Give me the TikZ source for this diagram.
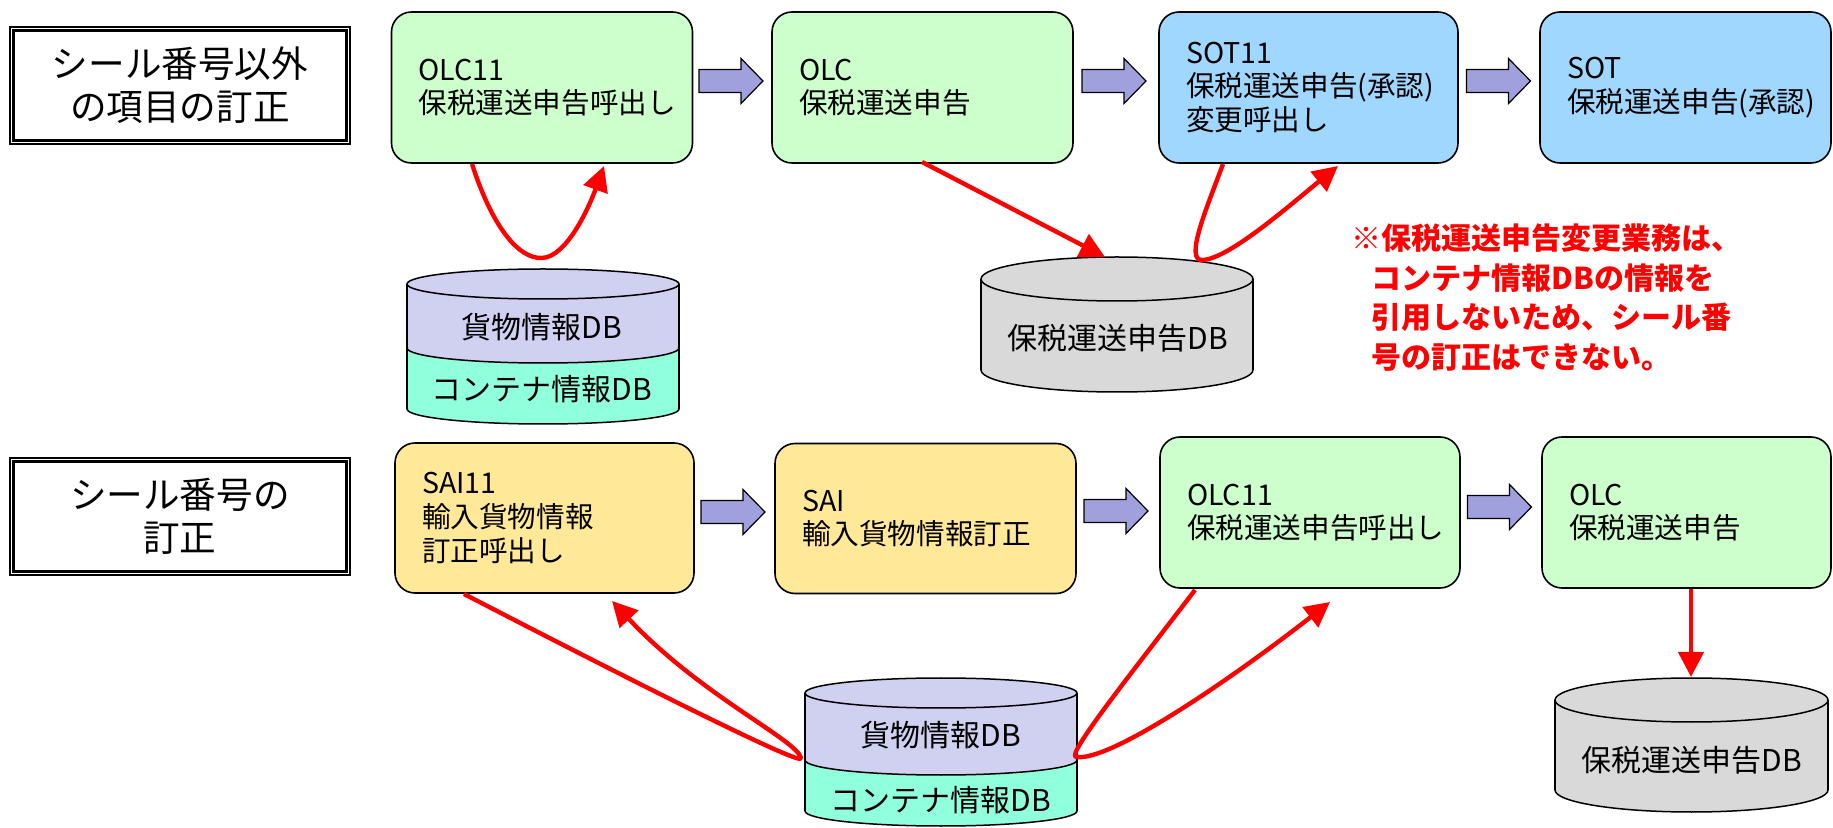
\documentclass[tikz,border=0pt]{standalone}
\usepackage{fontspec}
\newfontfamily\jp{Noto Sans CJK JP}
\usetikzlibrary{arrows.meta,calc}

\definecolor{boxgreen}{RGB}{204,255,204}
\definecolor{boxblue}{RGB}{160,215,255}
\definecolor{boxyellow}{RGB}{255,233,153}
\definecolor{arrowviolet}{RGB}{160,160,220}
\definecolor{dblav}{RGB}{208,208,240}
\definecolor{dbaqua}{RGB}{144,255,220}
\definecolor{dbgray}{RGB}{217,217,217}
\definecolor{flowred}{RGB}{255,0,0}

% filled band of a cylinder: x1, x2, top centre y, bottom centre y, ry, colour
\newcommand\dbband[6]{%
  \pgfmathsetmacro\dbcx{(#1+#2)/2}%
  \pgfmathsetmacro\dbrx{(#2-#1)/2}%
  \fill[#6] (#1,#3) rectangle (#2,#4);
  \fill[#6] (\dbcx,#4) ellipse [x radius=\dbrx, y radius=#5];
}
% lower half of an ellipse outline: x1, x2, centre y, ry
\newcommand\dbrim[4]{%
  \pgfmathsetmacro\dbcx{(#1+#2)/2}%
  \pgfmathsetmacro\dbrx{(#2-#1)/2}%
  \begin{scope}
    \clip (#1-5,#3) rectangle (#2+5,#3+#4+5);
    \draw[dbline] (\dbcx,#3) ellipse [x radius=\dbrx, y radius=#4];
  \end{scope}
}
% top lid: x1, x2, centre y, ry, colour
\newcommand\dblid[5]{%
  \pgfmathsetmacro\dbcx{(#1+#2)/2}%
  \pgfmathsetmacro\dbrx{(#2-#1)/2}%
  \filldraw[dbline, fill=#5] (\dbcx,#3) ellipse [x radius=\dbrx, y radius=#4];
}
% one-band cylinder: x1, x2, ytop, ybottom, ry, colour
\newcommand\dbone[6]{%
  \dbband{#1}{#2}{#3}{#4}{#5}{#6}
  \dbrim{#1}{#2}{#4}{#5}
  \draw[dbline] (#1,#3) -- (#1,#4) (#2,#3) -- (#2,#4);
  \dblid{#1}{#2}{#3}{#5}{#6}
}
% two-band cylinder: x1, x2, ytop, ysplit, ybottom, ry, upper colour, lower colour
\newcommand\dbtwo[8]{%
  \dbband{#1}{#2}{#4}{#5}{#6}{#8}
  \dbband{#1}{#2}{#3}{#4}{#6}{#7}
  \dbrim{#1}{#2}{#5}{#6}
  \dbrim{#1}{#2}{#4}{#6}
  \draw[dbline] (#1,#3) -- (#1,#5) (#2,#3) -- (#2,#5);
  \dblid{#1}{#2}{#3}{#6}{#7}
}

\tikzset{
  dbline/.style={draw=black, line width=0.75pt},
  stepbox/.style={draw=black, line width=0.8pt, rounded corners=10pt,
    minimum height=75.5pt, align=left, inner xsep=13.5pt, inner ysep=0pt,
    font=\jp\fontsize{14.3pt}{16.8pt}\selectfont},
  titlebox/.style={draw=black, line width=0.6pt, minimum width=170pt,
    minimum height=58.5pt, inner sep=0pt, align=center,
    font=\jp\fontsize{18.3pt}{21.5pt}\selectfont},
  dbtext/.style={inner sep=0pt, font=\jp\fontsize{15pt}{18pt}\selectfont},
  flow/.style={draw=flowred, line width=2.2pt, line join=round,
    -{Triangle[length=12.5pt,width=12.5pt]}},
  fwd/.pic={\filldraw[draw=black, line width=0.6pt, fill=arrowviolet]
    (-32,-11.5) -- (10,-11.5) -- (10,-22.5) -- (32,0) -- (10,22.5)
    -- (10,11.5) -- (-32,11.5) -- cycle;},
}

\begin{document}
\begin{tikzpicture}[x=0.5pt, y=-0.5pt]
\useasboundingbox (0,0) rectangle (1833,828);

% ---- headings ----
\node[titlebox] (lab1) at (180,85.5) {シール番号以外\\の項目の訂正};
\draw[line width=1.5pt] ([shift={(4.5,4.5)}]lab1.north west) rectangle ([shift={(-4.5,-4.5)}]lab1.south east);
\node[titlebox] (lab2) at (180,516.5) {シール番号の\\訂正};
\draw[line width=1.5pt] ([shift={(4.5,4.5)}]lab2.north west) rectangle ([shift={(-4.5,-4.5)}]lab2.south east);

% ---- upper flow ----
\node[stepbox, fill=boxgreen, text width=123.5pt] (b1) at (542,87.5) {OLC11\\保税運送申告呼出し};
\node[stepbox, fill=boxgreen, text width=123.5pt] (b2) at (922.5,87.5) {OLC\\保税運送申告};
\node[stepbox, fill=boxblue, text width=122.5pt] (b3) at (1308.5,87.5) {SOT11\\保税運送申告(承認)\\変更呼出し};
\node[stepbox, fill=boxblue, text width=118.5pt] (b4) at (1685.5,87.5) {SOT\\保税運送申告(承認)};

\pic at (731,81) {fwd};
\pic at (1114,81) {fwd};
\pic at (1498.5,81) {fwd};

% ---- lower flow ----
\node[stepbox, fill=boxyellow, text width=122.5pt, minimum height=75pt] (c1) at (544.5,518) {SAI11\\輸入貨物情報\\訂正呼出し};
\node[stepbox, fill=boxyellow, text width=123.5pt, minimum height=75pt] (c2) at (925.5,518.5) {SAI\\輸入貨物情報訂正};
\node[stepbox, fill=boxgreen, text width=123pt] (c3) at (1310,512.5) {OLC11\\保税運送申告呼出し};
\node[stepbox, fill=boxgreen, text width=117.5pt] (c4) at (1686.5,512.5) {OLC\\保税運送申告};

\pic at (733,512) {fwd};
\pic at (1116,511) {fwd};
\pic at (1499.5,507) {fwd};

% ---- databases ----
\dbtwo{407}{679}{284}{348}{409}{15}{dblav}{dbaqua}
\node[dbtext] (db1a) at (542,327) {貨物情報DB};
\node[dbtext] (db1b) at (542,389) {コンテナ情報DB};

\dbone{981}{1253}{279}{370}{22}{dbgray}
\node[dbtext] (db2) at (1118,338) {保税運送申告DB};

\dbtwo{805}{1077}{693}{760}{811}{15}{dblav}{dbaqua}
\node[dbtext] (db3a) at (941,735) {貨物情報DB};
\node[dbtext] (db3b) at (941,800) {コンテナ情報DB};

\dbone{1555}{1828}{700}{790}{22}{dbgray}
\node[dbtext] (db4) at (1692,760) {保税運送申告DB};

% ---- data references ----
\coordinate (r1s) at (472,164);
\coordinate (r1m) at (542,258);
\coordinate (r1e) at (604,166);
\draw[flow] (r1s) .. controls (492,226) and (518,259) .. (r1m)
  .. controls (566,257) and (588,210) .. (r1e);

\coordinate (r2s) at (922,162);
\coordinate (r2e) at (1105,257);
\draw[flow] (r2s) -- (r2e);

\coordinate (r3s) at (1223,164);
\coordinate (r3m) at (1203,260);
\coordinate (r3e) at (1338,166);
\draw[flow] (r3s) .. controls (1208,205) and (1183,262) .. (r3m)
  .. controls (1230,258) and (1290,205) .. (r3e);

\coordinate (r4s) at (464,594);
\coordinate (r4m) at (801,758);
\coordinate (r4e) at (612,601);
\draw[flow] (r4s) .. controls (640,685) and (805,768) .. (r4m)
  .. controls (797,740) and (700,695) .. (r4e);

\coordinate (r5s) at (1195,590);
\coordinate (r5m) at (1076,757);
\coordinate (r5e) at (1330,602);
\draw[flow] (r5s) .. controls (1130,675) and (1066,755) .. (r5m)
  .. controls (1110,762) and (1230,680) .. (r5e);

\coordinate (r6s) at (1691,589);
\coordinate (r6e) at (1691,677);
\draw[flow] (r6s) -- (r6e);

% ---- remark ----
\node[anchor=west, inner sep=0pt, align=left, text=flowred,
  font=\jp\bfseries\fontsize{15pt}{19.75pt}\selectfont] (note) at (1351,297.5)
  {※保税運送申告変更業務は、\\
   \hspace*{10pt}コンテナ情報DBの情報を\\
   \hspace*{10pt}引用しないため、シール番\\
   \hspace*{10pt}号の訂正はできない。};
\end{tikzpicture}
\end{document}
